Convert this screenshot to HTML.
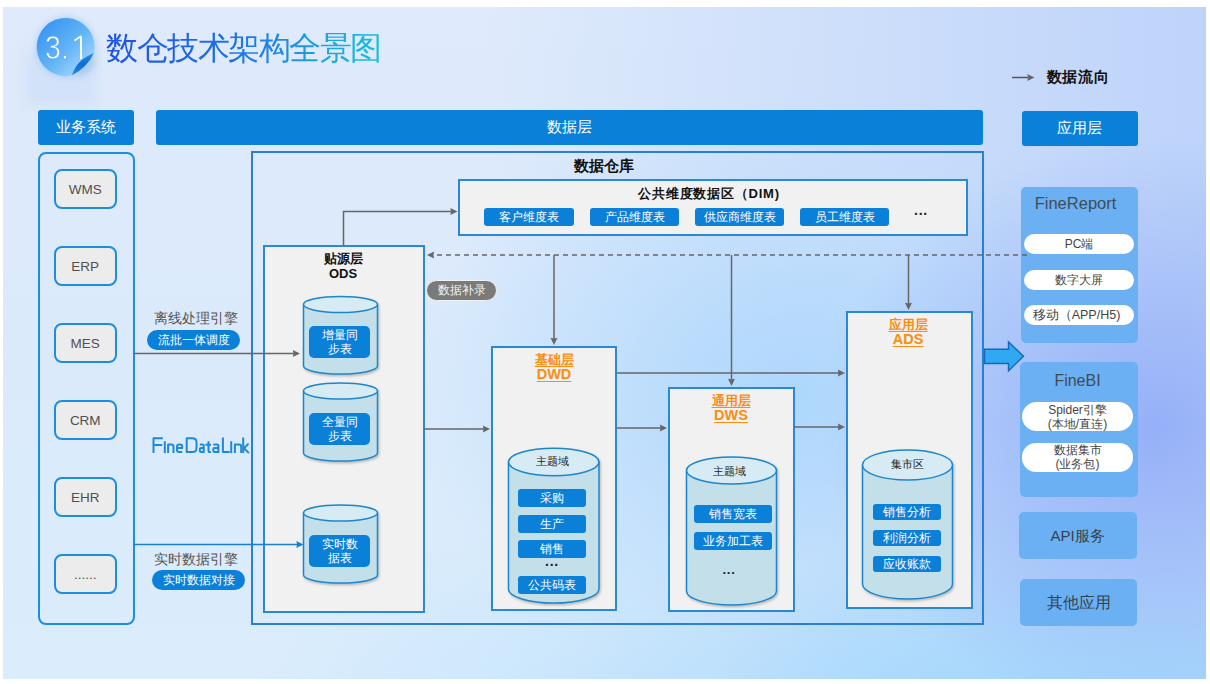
<!DOCTYPE html>
<html><head><meta charset="utf-8">
<style>
*{margin:0;padding:0;box-sizing:border-box}
html,body{width:1210px;height:684px;background:#fff;overflow:hidden;font-family:"Liberation Sans",sans-serif}
#slide{position:absolute;left:3px;top:7px;width:1203px;height:672px;overflow:hidden;
 background:
 radial-gradient(ellipse 330px 290px at 1150px 420px, rgba(150,176,248,1) 0%, rgba(158,184,248,0.7) 45%, rgba(170,195,250,0) 100%),
 radial-gradient(ellipse 440px 250px at 1150px 710px, rgba(160,214,252,1) 0%, rgba(166,216,252,0.65) 50%, rgba(170,214,252,0) 100%),
 radial-gradient(ellipse 400px 130px at 950px 690px, rgba(172,218,253,0.9) 0%, rgba(172,218,253,0) 100%),
 radial-gradient(ellipse 400px 200px at 650px 700px, rgba(196,228,252,0.9) 0%, rgba(196,228,252,0) 100%),
 radial-gradient(ellipse 380px 300px at 790px 390px, rgba(170,214,253,0.9) 0%, rgba(178,218,253,0.45) 55%, rgba(190,222,253,0) 100%),
 linear-gradient(90deg, rgba(176,204,250,0) 40%, rgba(176,202,250,0.7) 100%),
 linear-gradient(180deg,#dfeafb 0%,#dbeafb 50%,#daedfc 100%)}
.a{position:absolute}
.c{position:absolute;display:flex;align-items:center;justify-content:center;text-align:center;white-space:nowrap}
.hdr{background:#0a80d9;color:#fff;font-size:15px;border-radius:3px}
.box{background:#f1f1f1;border:2px solid #2a88d6}
.src{background:#ececec;border:2px solid #1c8de0;border-radius:8px;color:#505050;font-size:13.5px;padding-top:1px}
.btn{background:#0a80d9;color:#fff;font-size:11.5px;border-radius:3px}
.lbl{background:#0a80d9;color:#fff;font-size:11.8px;line-height:14px;border-radius:5px;white-space:normal}
.ttl{color:#fb8d10;font-weight:bold;font-size:13px;line-height:15px;text-decoration:underline;text-underline-offset:2px}
.pill{background:#fff;color:#444;font-size:12px;border-radius:12px}
.panel{background:#6ab0f2;border-radius:5px}
</style></head><body>
<div id="slide"></div>

<!-- title -->
<div class="a" style="left:26px;top:52px;width:70px;height:54px;background:rgba(140,180,235,0.14);filter:blur(6px)"></div>
<svg class="a" style="left:20px;top:2px;overflow:visible" width="100" height="100" viewBox="20 2 100 100">
<defs>
<linearGradient id="cg" x1="0" y1="0" x2="1" y2="1"><stop offset="0" stop-color="#2a8cf0"/><stop offset="0.55" stop-color="#66b6f6"/><stop offset="1" stop-color="#bfe3fc"/></linearGradient>
<linearGradient id="fg" x1="0" y1="0" x2="0" y2="1"><stop offset="0" stop-color="#2a8ce8"/><stop offset="0.5" stop-color="#0a6fd2"/><stop offset="1" stop-color="#2a8ce8"/></linearGradient>
<filter id="glow" x="-30%" y="-30%" width="160%" height="160%"><feGaussianBlur stdDeviation="3"/></filter>
</defs>
<circle cx="65.6" cy="47" r="30" fill="#7ab4f4" opacity="0.45" filter="url(#glow)"/>
<path d="M80,70 Q88,68 94,56 L96,64 Q90,76 78,77 Z" fill="rgba(90,150,220,0.25)" filter="url(#glow)"/>
<path d="M71.8,75.3 A29,29 0 1 1 94,53 Q77.5,59 71.8,75.3 Z" fill="url(#cg)"/>
<path d="M71.8,75.3 Q77.5,59 94,53 Q86.5,68.5 71.8,75.3 Z" fill="url(#fg)"/>
</svg>
<div class="a" id="n31" style="left:45px;top:27px;width:42px;height:40px;color:#fff;font-size:34px;line-height:40px;white-space:nowrap;transform-origin:0 50%;transform:scaleX(0.84);-webkit-text-stroke:0.8px rgba(80,160,242,0.85)">3.</div>
<svg class="a" style="left:0;top:0" width="120" height="90" viewBox="0 0 120 90"><path d="M74.5,40.5 L81,36.2 V59" fill="none" stroke="#fff" stroke-width="1.8" stroke-linejoin="bevel"/></svg>
<div class="a" id="ttl" style="left:106px;top:28px;font-size:32px;font-weight:300;line-height:40px;letter-spacing:-1.5px;background:linear-gradient(90deg,#1f52e8 0%,#1f6fe6 45%,#1f95e2 70%,#18c0d8 100%);-webkit-background-clip:text;background-clip:text;color:transparent;white-space:nowrap">数仓技术架构全景图</div>

<!-- legend -->
<div class="c" style="left:1042px;top:67px;width:72px;height:20px;font-size:15px;letter-spacing:0.6px;font-weight:bold;color:#111">数据流向</div>

<!-- headers -->
<div class="c hdr" style="left:38px;top:110px;width:96px;height:35px">业务系统</div>
<div class="c hdr" style="left:156px;top:110px;width:827px;height:35px">数据层</div>
<div class="c hdr" style="left:1021.5px;top:110.5px;width:116.5px;height:35px">应用层</div>

<!-- left container -->
<div class="a" style="left:38px;top:152px;width:97px;height:473px;border:2px solid #1c8de0;border-radius:8px"></div>
<div class="c src" style="left:53.5px;top:168.5px;width:63.5px;height:40.5px">WMS</div>
<div class="c src" style="left:53.5px;top:245.5px;width:63.5px;height:40.5px">ERP</div>
<div class="c src" style="left:53.5px;top:322.5px;width:63.5px;height:40.5px">MES</div>
<div class="c src" style="left:53.5px;top:399.5px;width:63.5px;height:40.5px">CRM</div>
<div class="c src" style="left:53.5px;top:476.5px;width:63.5px;height:40.5px">EHR</div>
<div class="c src" style="left:53.5px;top:553.5px;width:63.5px;height:40.5px">......</div>


<!-- DW container -->
<div class="a" style="left:251px;top:151px;width:733px;height:474px;border:2px solid #2a7fd0"></div>
<div class="c" style="left:560px;top:156px;width:88px;height:20px;font-size:15px;font-weight:bold;color:#111">数据仓库</div>

<!-- DIM -->
<div class="a box" style="left:457.5px;top:179px;width:510px;height:57px"></div>
<div class="c" style="left:610px;top:185px;width:198px;height:17px;font-size:13px;letter-spacing:0.8px;font-weight:bold;color:#111">公共维度数据区（DIM)</div>
<div class="c btn" style="left:484px;top:208px;width:90px;height:18px">客户维度表</div>
<div class="c btn" style="left:590px;top:208px;width:89px;height:18px">产品维度表</div>
<div class="c btn" style="left:695px;top:208px;width:89px;height:18px">供应商维度表</div>
<div class="c btn" style="left:800px;top:208px;width:89px;height:18px">员工维度表</div>
<div class="c" style="left:905px;top:205px;width:32px;height:18px;font-size:14px;font-weight:bold;color:#222">···</div>

<!-- ODS -->
<div class="a box" style="left:263px;top:245px;width:162px;height:368px"></div>
<div class="c" style="left:303px;top:250px;width:80px;height:32px;font-size:13px;line-height:15px;font-weight:bold;color:#111;white-space:normal">贴源层<br>ODS</div>

<!-- DWD -->
<div class="a box" style="left:491px;top:346px;width:126px;height:265px"></div>
<!-- DWS -->
<div class="a box" style="left:668px;top:387px;width:127px;height:224.5px"></div>
<!-- ADS -->
<div class="a box" style="left:846px;top:311px;width:127px;height:298px"></div>

<!-- right panels -->
<div class="a panel" style="left:1021px;top:187px;width:117px;height:156px"></div>
<div class="a panel" style="left:1020px;top:362px;width:118px;height:135px"></div>
<div class="c panel" style="left:1018.5px;top:511.5px;width:118px;height:47px;font-size:15px;color:#38424c;padding-top:3px">API服务</div>
<div class="c panel" style="left:1020px;top:578.5px;width:117px;height:47px;font-size:16px;color:#38424c;padding-top:3px">其他应用</div>

<svg class="a" style="left:0;top:0" width="1210" height="684" viewBox="0 0 1210 684">
<defs>
<filter id="cyl" x="-20%" y="-20%" width="140%" height="140%"><feDropShadow dx="1" dy="1.5" stdDeviation="1.2" flood-color="#000" flood-opacity="0.25"/></filter>
<marker id="ah" markerWidth="10" markerHeight="10" refX="3.5" refY="5" orient="auto" markerUnits="userSpaceOnUse"><path d="M0.8,1.5 L8,5 L0.8,8.5 L1.6,5 z" fill="#666"/></marker>
<marker id="ahb" markerWidth="10" markerHeight="10" refX="3.5" refY="5" orient="auto" markerUnits="userSpaceOnUse"><path d="M0.8,1.5 L8,5 L0.8,8.5 L1.6,5 z" fill="#1a7fd0"/></marker>
</defs>
<g stroke="#666" stroke-width="1.5" fill="none">
<path d="M134,353.5 H295.5" marker-end="url(#ah)"/>
<path d="M343.5,245 V211.5 H453" marker-end="url(#ah)"/>
<path d="M1027,255 H431.5" stroke-dasharray="5,4" marker-end="url(#ah)"/>
<path d="M554,255 V340.5" marker-end="url(#ah)"/>
<path d="M731.5,255 V381.5" marker-end="url(#ah)"/>
<path d="M908.5,255 V305.5" marker-end="url(#ah)"/>
<path d="M424,429 H485.5" marker-end="url(#ah)"/>
<path d="M617,428 H662.5" marker-end="url(#ah)"/>
<path d="M794,427 H840.5" marker-end="url(#ah)"/>
<path d="M617,373 H840.5" marker-end="url(#ah)"/>
</g>
<path d="M134,544.5 H299" stroke="#1a7fd0" stroke-width="1.5" fill="none" marker-end="url(#ahb)"/>
<path d="M1012,77.5 H1030" stroke="#555" stroke-width="1.5" marker-end="url(#ah)"/>

<!-- cylinders -->
<g stroke="#1e86c9" stroke-width="1.5" filter="url(#cyl)">
<path d="M303.5,304.5 V366 A37,8 0 0 0 377.5,366 V304.5 Z" fill="#c2dfea"/>
<ellipse cx="340.5" cy="304.5" rx="37" ry="8" fill="#d6ebf3"/>
<path d="M303.5,391 V453 A37,8 0 0 0 377.5,453 V391 Z" fill="#c2dfea"/>
<ellipse cx="340.5" cy="391" rx="37" ry="8" fill="#d6ebf3"/>
<path d="M303.5,513 V575 A37,8 0 0 0 377.5,575 V513 Z" fill="#c2dfea"/>
<ellipse cx="340.5" cy="513" rx="37" ry="8" fill="#d6ebf3"/>

<path d="M508.5,462 V589 A45,14 0 0 0 599,589 V462 Z" fill="#c2dfea"/>
<ellipse cx="553.75" cy="462" rx="45.25" ry="13.7" fill="#d6ebf3"/>
<path d="M686.5,470.5 V591 A45,14 0 0 0 776.5,591 V470.5 Z" fill="#c2dfea"/>
<ellipse cx="731.5" cy="470.5" rx="45" ry="13.5" fill="#d6ebf3"/>
<path d="M862.5,465 V584 A45,15 0 0 0 952.5,584 V465 Z" fill="#c2dfea"/>
<ellipse cx="907.5" cy="465" rx="45" ry="15" fill="#d6ebf3"/>
</g>

<!-- block arrow -->
<path d="M984.5,349.2 H1008.5 V341.8 L1023.5,356.3 L1008.5,370.8 V363.5 H984.5 Z" fill="#30a8f2" stroke="#1468b8" stroke-width="1.4"/>
</svg>

<!-- engines -->
<div class="c" style="left:146px;top:310px;width:100px;height:18px;font-size:13.5px;color:#555">离线处理引擎</div>
<div class="c" style="left:147px;top:330px;width:93px;height:20px;background:#0a80d9;color:#fff;font-size:11.5px;border-radius:10px">流批一体调度</div>
<svg class="a" style="left:0;top:0" width="1210" height="684" viewBox="0 0 1210 684"><g fill="none" stroke="#1f89d8" stroke-width="2" stroke-linejoin="round">
<path d="M162.8,438.2 H153.5 V453.1 M153.5,444.9 H162.2"/>
<path d="M164.8,441.2 V453.1"/>
<path d="M168.1,453.1 V444.4 H171.5 Q173.5,444.4 173.5,446.4 V453.1"/>
<path d="M182.2,452.1 H179 Q177,452.1 177,450.1 V446.4 Q177,444.4 179,444.4 H180.2 Q182.2,444.4 182.2,446.4 V447.9 H177"/>
<path d="M186.7,438.2 H192.3 Q196.5,438.2 196.5,442.4 V447.9 Q196.5,452.1 192.3,452.1 H186.7 Z"/>
<path d="M199.8,444.4 H202.5 Q203.7,444.4 203.7,445.6 V453.1 M203.7,447.9 H201.2 Q199.8,447.9 199.8,449.3 V450.7 Q199.8,452.1 201.2,452.1 H203.7"/>
<path d="M208.5,441.2 V450.9 Q208.5,452.1 209.7,452.1 H211 M205.4,444.7 H211"/>
<path d="M213.3,444.4 H217 Q218.4,444.4 218.4,445.8 V453.1 M218.4,447.9 H214.7 Q213.3,447.9 213.3,449.3 V450.7 Q213.3,452.1 214.7,452.1 H218.4"/>
<path d="M222.9,437.4 V452.1 H229.7"/>
<path d="M231.2,441.2 V453.1"/>
<path d="M234.9,453.1 V444.4 H239.2 Q241.2,444.4 241.2,446.4 V453.1"/>
<path d="M243.2,437.4 V453.1 M248.6,443.6 L244,448.2 L248.9,453.1"/>
</g></svg>
<div class="c" style="left:146px;top:550.5px;width:100px;height:18px;font-size:13.5px;color:#555">实时数据引擎</div>
<div class="c" style="left:152px;top:570px;width:93px;height:20px;background:#0a80d9;color:#fff;font-size:11.5px;border-radius:10px">实时数据对接</div>

<!-- data-supplement pill -->
<div class="c" style="left:426px;top:280px;width:71px;height:20.5px;background:#7a7a7a;color:#f4f4f4;font-size:11.5px;border-radius:10.5px;border:1.5px solid #f2f2f2">数据补录</div>

<!-- ODS labels -->
<div class="c lbl" style="left:309px;top:326px;width:61px;height:32px">增量同<br>步表</div>
<div class="c lbl" style="left:309px;top:413px;width:61px;height:32px">全量同<br>步表</div>
<div class="c lbl" style="left:309px;top:535px;width:61px;height:32px">实时数<br>据表</div>

<!-- DWD -->
<div class="c ttl" style="left:504px;top:352px;width:100px;height:30px;white-space:normal"><div>基础层<br><span style="font-size:14.5px">DWD</span></div></div>
<div class="c" style="left:520px;top:453px;width:64px;height:17px;font-size:11px;font-weight:500;color:#222">主题域</div>
<div class="c btn" style="left:518px;top:489px;width:68px;height:18px">采购</div>
<div class="c btn" style="left:518px;top:515px;width:68px;height:18px">生产</div>
<div class="c btn" style="left:518px;top:540px;width:68px;height:18px">销售</div>
<div class="c" style="left:520px;top:557px;width:64px;height:16px;font-size:14px;font-weight:bold;color:#222">···</div>
<div class="c btn" style="left:518px;top:576px;width:68px;height:18px">公共码表</div>

<!-- DWS -->
<div class="c ttl" style="left:681px;top:393px;width:100px;height:30px;white-space:normal"><div>通用层<br><span style="font-size:14.5px">DWS</span></div></div>
<div class="c" style="left:697px;top:463px;width:64px;height:17px;font-size:11px;font-weight:500;color:#222">主题域</div>
<div class="c btn" style="left:694px;top:505px;width:78px;height:18px">销售宽表</div>
<div class="c btn" style="left:694px;top:532px;width:78px;height:18px">业务加工表</div>
<div class="c" style="left:697px;top:564.5px;width:64px;height:16px;font-size:13px;font-weight:bold;color:#222">···</div>

<!-- ADS -->
<div class="c ttl" style="left:858px;top:317px;width:100px;height:30px;white-space:normal"><div>应用层<br><span style="font-size:14.5px">ADS</span></div></div>
<div class="c" style="left:875px;top:456px;width:64px;height:17px;font-size:11px;font-weight:500;color:#222">集市区</div>
<div class="c btn" style="left:873px;top:504px;width:68px;height:16px">销售分析</div>
<div class="c btn" style="left:873px;top:530px;width:68px;height:16px">利润分析</div>
<div class="c btn" style="left:873px;top:556px;width:68px;height:16px">应收账款</div>

<!-- right panel contents -->
<div class="c" style="left:1017px;top:192px;width:117px;height:22px;font-size:16.5px;color:#424c56">FineReport</div>
<div class="c pill" style="left:1024px;top:234px;width:110px;height:20px;border-radius:10px">PC端</div>
<div class="c pill" style="left:1024px;top:269.5px;width:110px;height:20px;border-radius:10px;padding-top:1px">数字大屏</div>
<div class="c pill" style="left:1024px;top:304.5px;width:110px;height:20px;border-radius:10px;padding-top:1px;font-size:12.5px;padding-right:5px">移动（APP/H5)</div>
<div class="c" style="left:1019px;top:369.5px;width:117px;height:22px;font-size:16px;color:#424c56">FineBI</div>
<div class="c pill" style="left:1022px;top:402px;width:111px;height:29px;border-radius:14.5px;line-height:14px;font-size:12px;white-space:normal">Spider引擎<br>(本地/直连)</div>
<div class="c pill" style="left:1022px;top:443px;width:111px;height:28.5px;border-radius:14px;line-height:14px;font-size:12px;white-space:normal">数据集市<br>(业务包)</div>

</body></html>
